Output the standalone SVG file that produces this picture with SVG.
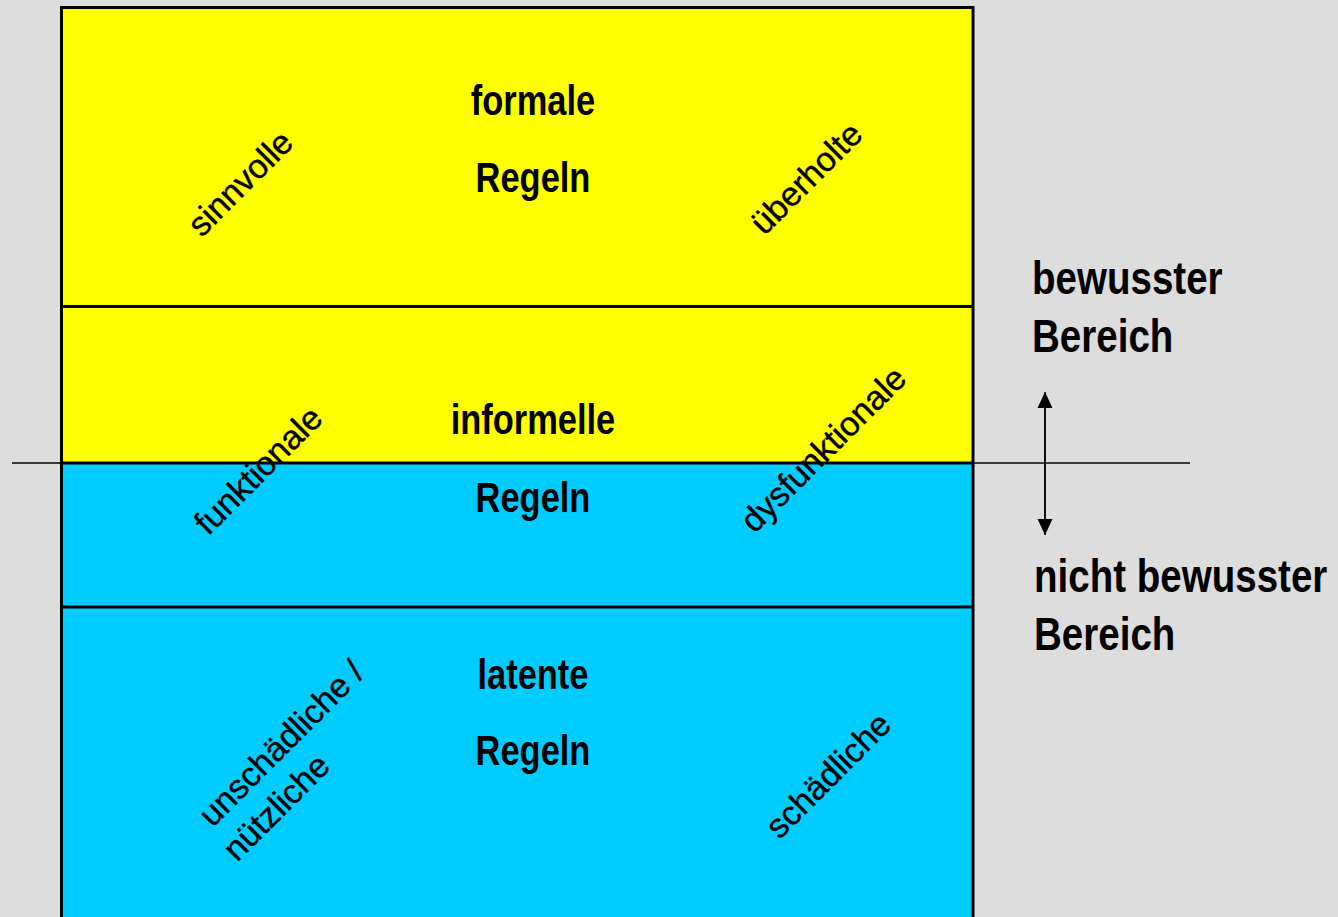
<svg xmlns="http://www.w3.org/2000/svg" width="1338" height="917" viewBox="0 0 1338 917">
<defs>
<style>
.bg{fill:#dddddd}
.yel{fill:#ffff00;stroke:none}
.blu{fill:#00ccff;stroke:none}
.edge{fill:none;stroke:#000;stroke-width:3}
.big{font-family:"Liberation Sans",Arial,sans-serif;font-weight:bold;font-size:42px;fill:#000;text-anchor:middle}
.side{font-family:"Liberation Sans",Arial,sans-serif;font-weight:bold;font-size:47px;fill:#000}
.rot{font-family:"Liberation Sans",Arial,sans-serif;font-size:34px;fill:#000;text-anchor:middle;stroke:#000;stroke-width:0.4}
.thin{fill:none;stroke:#000;stroke-width:1.5}
</style>
<marker id="ah2" viewBox="0 0 16 16" refX="16" refY="8" markerWidth="16" markerHeight="16" markerUnits="userSpaceOnUse" orient="auto-start-reverse">
<path d="M0,0.5 L16,8 L0,15.5 z" fill="#000"/>
</marker>
</defs>
<rect class="bg" x="0" y="0" width="1338" height="917"/>

<g id="connectors">
<line class="thin" x1="12" y1="463" x2="1190" y2="463"/>
<line class="thin" x1="1045" y1="400" x2="1045" y2="527"/>
<line class="thin" x1="1045" y1="392" x2="1045" y2="535" stroke="none" marker-start="url(#ah2)" marker-end="url(#ah2)"/>
</g>

<g id="layer-formal">
<rect class="yel" x="61.5" y="7.5" width="911.5" height="299"/>
<text class="big" transform="translate(533,115) scale(0.82,1)">formale</text>
<text class="big" transform="translate(533,192) scale(0.82,1)">Regeln</text>
<text class="rot" transform="translate(240,183) rotate(-45)" dy="0.35em">sinnvolle</text>
<text class="rot" transform="translate(806,178) rotate(-45)" dy="0.35em">überholte</text>
</g>

<g id="layer-informal">
<rect class="yel" x="61.5" y="306.5" width="911.5" height="156.5"/>
<rect class="blu" x="61.5" y="463" width="911.5" height="144"/>
</g>

<g id="layer-latent">
<rect class="blu" x="61.5" y="607" width="911.5" height="320"/>
</g>

<g id="borders">
<path class="edge" d="M61.5,930 L61.5,7.5 L973,7.5 L973,930"/>
<line class="edge" x1="61.5" y1="306.5" x2="973" y2="306.5"/>
<line class="edge" x1="61.5" y1="463" x2="973" y2="463"/>
<line class="edge" x1="61.5" y1="607" x2="973" y2="607"/>
</g>

<g id="layer-informal-labels">
<text class="big" transform="translate(533,434) scale(0.82,1)">informelle</text>
<text class="big" transform="translate(533,512) scale(0.82,1)">Regeln</text>
<text class="rot" transform="translate(258,470) rotate(-45)" dy="0.35em">funktionale</text>
<text class="rot" transform="translate(823,449) rotate(-45)" dy="0.35em">dysfunktionale</text>
</g>

<g id="layer-latent-labels">
<text class="big" transform="translate(533,689) scale(0.82,1)">latente</text>
<text class="big" transform="translate(533,765) scale(0.82,1)">Regeln</text>
<text class="rot" transform="translate(281,743) rotate(-45)" dy="0.35em">unschädliche /</text>
<text class="rot" transform="translate(276,807) rotate(-45)" dy="0.35em">nützliche</text>
<text class="rot" transform="translate(828,775) rotate(-45)" dy="0.35em">schädliche</text>
</g>

<g id="label-bewusst">
<text class="side" transform="translate(1032,294) scale(0.82,1)">bewusster</text>
<text class="side" transform="translate(1032,352) scale(0.82,1)">Bereich</text>
</g>

<g id="label-nicht-bewusst">
<text class="side" transform="translate(1034,592) scale(0.82,1)">nicht bewusster</text>
<text class="side" transform="translate(1034,650) scale(0.82,1)">Bereich</text>
</g>
</svg>
